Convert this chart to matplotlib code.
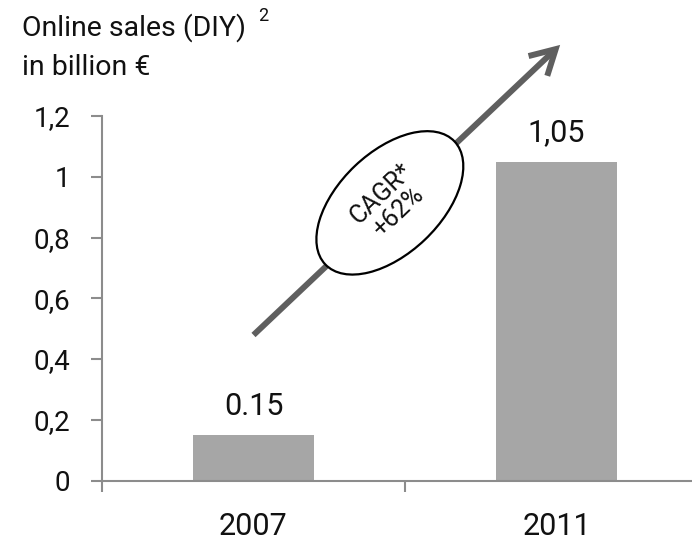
import matplotlib
matplotlib.use("Agg")
import matplotlib.pyplot as plt
from matplotlib.patches import Ellipse

# Data
years = ["2007", "2011"]
sales = [0.15, 1.05]
value_labels = ["0.15", "1,05"]
y_ticks = [0, 0.2, 0.4, 0.6, 0.8, 1.0, 1.2]
y_tick_labels = ["0", "0,2", "0,4", "0,6", "0,8", "1", "1,2"]
cagr_text = "CAGR*\n+62%"

plt.rcParams["font.family"] = ["Roboto", "DejaVu Sans"]

W, H, DPI = 692, 541, 100
fig = plt.figure(figsize=(W / DPI, H / DPI), dpi=DPI)
fig.patch.set_facecolor("white")

# axes extends past the right edge of the figure, so the last category boundary is cut off
ax = fig.add_axes([102 / W, (H - 480.5) / H, 606 / W, 364.5 / H])

axis_grey = "#8c8c8c"
bar_grey = "#a6a6a6"

x = list(range(len(years)))
ax.bar(x, sales, width=0.4, color=bar_grey, zorder=2)

ax.set_xlim(-0.5, 1.5)
ax.set_ylim(0, 1.2)

for s in ("top", "right"):
    ax.spines[s].set_visible(False)
for s in ("left", "bottom"):
    ax.spines[s].set_color(axis_grey)
    ax.spines[s].set_linewidth(1.5)

# y axis
ax.set_yticks(y_ticks)
ax.set_yticklabels(y_tick_labels)
ax.tick_params(axis="y", direction="out", length=8, width=1.5, color=axis_grey,
               labelsize=20, pad=15, labelcolor="#111111")

# x axis: boundary ticks without labels, category labels on minor ticks
ax.set_xticks([-0.5, 0.5, 1.5])
ax.set_xticklabels([])
ax.set_xticks(x, minor=True)
ax.set_xticklabels(years, minor=True)
ax.tick_params(axis="x", which="major", direction="out", length=8, width=1.5,
               color=axis_grey)
ax.tick_params(axis="x", which="minor", length=0, labelsize=22, pad=23,
               labelcolor="#111111")

# value labels above bars
for xi, v, lab in zip(x, sales, value_labels):
    ax.annotate(lab, xy=(xi, v), xytext=(0, 14.5), textcoords="offset points",
                ha="center", va="baseline", fontsize=22, color="#111111")

# growth arrow
ax.annotate("", xy=(1.012, 1.434), xytext=(0.0, 0.479), xycoords="data",
            annotation_clip=False,
            arrowprops=dict(arrowstyle="->,head_length=1.76,head_width=0.98",
                            mutation_scale=10, lw=4.3, color="#5f5f5f",
                            shrinkA=0, shrinkB=0, capstyle="butt",
                            joinstyle="miter"),
            zorder=3)

# CAGR ellipse
ell = Ellipse((0.45, 0.914), width=0.588, height=0.335, angle=43.5,
              facecolor="white", edgecolor="black", lw=1.6, zorder=4,
              clip_on=False)
ax.add_patch(ell)
ax.text(0.45, 0.914, cagr_text, rotation=43.5, rotation_mode="anchor",
        ha="center", va="center", multialignment="center",
        fontsize=18, color="#111111", zorder=5, linespacing=1.05)

# title
fig.text(22 / W, 1 - 36 / H, "Online sales (DIY)", fontsize=20.5, va="baseline",
         ha="left", color="#111111")
fig.text(258 / W, 1 - 21 / H, "2", fontsize=13, va="baseline", ha="left",
         color="#111111")
fig.text(22 / W, 1 - 75 / H, "in billion €", fontsize=20.5, va="baseline",
         ha="left", color="#111111")

fig.savefig("out.png", dpi=DPI, facecolor="white")
